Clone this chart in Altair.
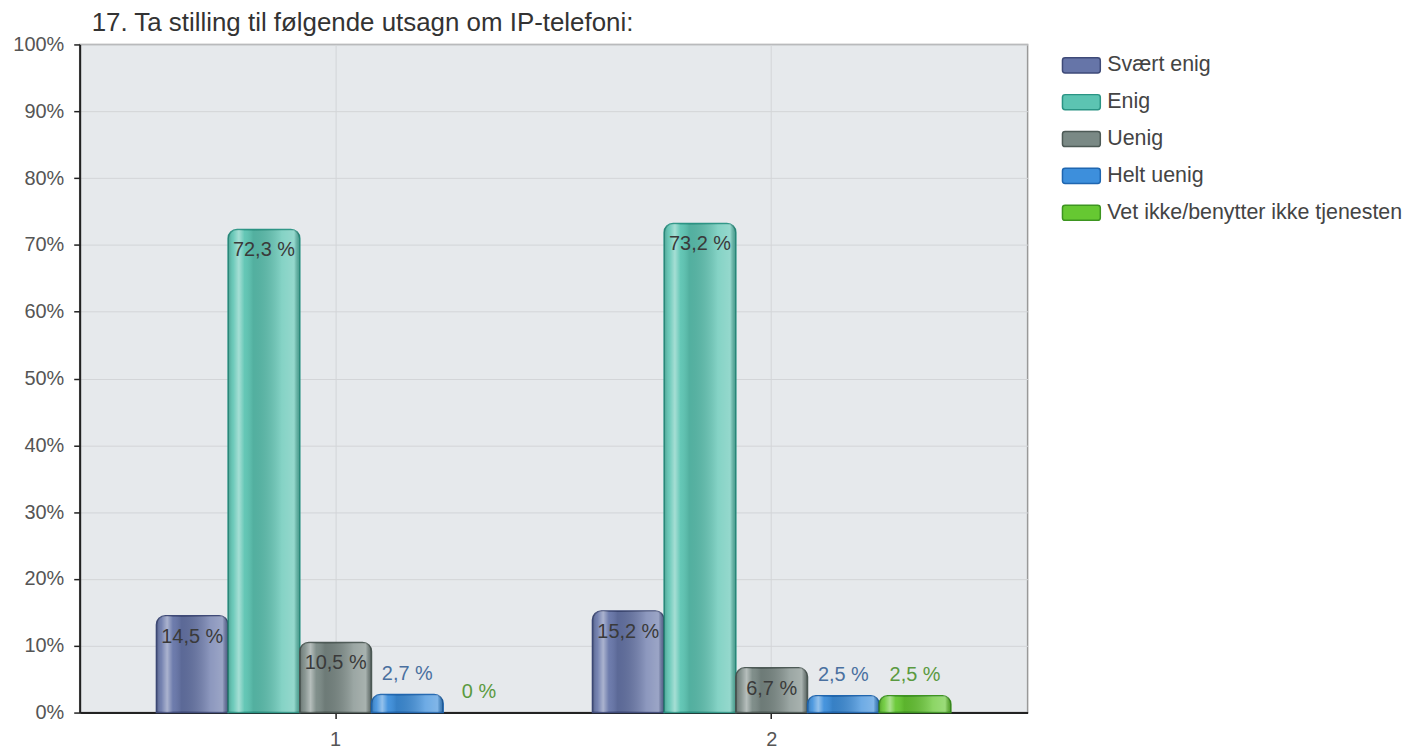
import altair as alt
import pandas as pd

groups = ["1", "2"]
series = ["Svært enig", "Enig", "Uenig", "Helt uenig", "Vet ikke/benytter ikke tjenesten"]
values_g1 = [14.5, 72.3, 10.5, 2.7, 0.0]
values_g2 = [15.2, 73.2, 6.7, 2.5, 2.5]
fill_colors = ["#6675a8", "#5cc4b2", "#7a8985", "#3d8fdc", "#66c832"]
stroke_colors = ["#3e4a78", "#2a9484", "#4d5a56", "#1f66b0", "#3d9520"]
y_ticks = [0, 10, 20, 30, 40, 50, 60, 70, 80, 90, 100]
title_text = "17. Ta stilling til følgende utsagn om IP-telefoni:"

rows = []
for g, vals in zip(groups, [values_g1, values_g2]):
    for s, v in zip(series, vals):
        lab = "0 %" if v == 0 else ("%.1f" % v).replace(".", ",") + " %"
        rows.append({"gruppe": g, "serie": s, "verdi": v, "etikett": lab})
df = pd.DataFrame(rows)

FONT = "Liberation Sans"

x_enc = alt.X(
    "gruppe:N", sort=groups, title=None,
    scale=alt.Scale(paddingInner=0.178, paddingOuter=0.176),
    axis=alt.Axis(labelAngle=0, labelFontSize=20, labelColor="#555555", labelFont=FONT,
                  tickSize=6, tickColor="#222222", tickWidth=1.5, labelPadding=11,
                  domainColor="#222222", domainWidth=2, grid=True, gridColor="#d3d5d8",
                  gridWidth=1),
)
xoff = alt.XOffset("serie:N", sort=series,
                   scale=alt.Scale(domain=series, paddingInner=0, paddingOuter=0))
y_enc = alt.Y(
    "verdi:Q", title=None,
    scale=alt.Scale(domain=[0, 100], nice=False),
    axis=alt.Axis(values=y_ticks, labelExpr="datum.value + '%'", labelFontSize=20,
                  labelColor="#555555", labelFont=FONT, tickSize=6, tickColor="#222222",
                  tickWidth=1.5, labelPadding=10, domainColor="#222222", domainWidth=2,
                  grid=True, gridColor="#d3d5d8", gridWidth=1),
)

base = alt.Chart(df).encode(x=x_enc, xOffset=xoff, y=y_enc)

sym_path = ("M-0.86,-0.4 L0.86,-0.4 Q1,-0.4 1,-0.26 L1,0.26 Q1,0.4 0.86,0.4 "
            "L-0.86,0.4 Q-1,0.4 -1,0.26 L-1,-0.26 Q-1,-0.4 -0.86,-0.4 Z")
legend = alt.Legend(title=None, orient="none", legendX=986, legendY=1,
                    symbolType=sym_path, symbolSize=1444, symbolStrokeWidth=1.5,
                    labelFontSize=21.5, labelFont=FONT, labelColor="#444444",
                    labelOffset=6, rowPadding=6, labelLimit=400)

bars = base.transform_filter("datum.verdi > 0").mark_bar(
    cornerRadiusTopLeft=9, cornerRadiusTopRight=9, strokeWidth=1.5
).encode(
    color=alt.Color("serie:N", sort=series,
                    scale=alt.Scale(domain=series, range=fill_colors), legend=legend),
    stroke=alt.Stroke("serie:N", sort=series,
                      scale=alt.Scale(domain=series, range=stroke_colors), legend=legend),
)

shine = alt.Gradient(
    gradient="linear", x1=0, x2=1, y1=0, y2=0,
    stops=[
        alt.GradientStop(offset=0.0, color="rgba(0,0,0,0.18)"),
        alt.GradientStop(offset=0.07, color="rgba(255,255,255,0.10)"),
        alt.GradientStop(offset=0.15, color="rgba(255,255,255,0.45)"),
        alt.GradientStop(offset=0.23, color="rgba(255,255,255,0.05)"),
        alt.GradientStop(offset=0.35, color="rgba(0,0,0,0.10)"),
        alt.GradientStop(offset=0.75, color="rgba(255,255,255,0.25)"),
        alt.GradientStop(offset=0.92, color="rgba(255,255,255,0.35)"),
        alt.GradientStop(offset=1.0, color="rgba(0,0,0,0.20)"),
    ],
)
overlay = base.transform_filter("datum.verdi > 0").mark_bar(
    cornerRadiusTopLeft=8, cornerRadiusTopRight=8, fill=shine, strokeWidth=0
)

inside = base.transform_filter("datum.verdi >= 5").mark_text(
    baseline="middle", align="center", dy=21, fontSize=20, font=FONT, color="#3a3a3a"
).encode(text="etikett:N")

outside = base.transform_filter("datum.verdi < 5").mark_text(
    baseline="middle", align="center", dy=-21, fontSize=20, font=FONT
).encode(
    text="etikett:N",
    color=alt.condition("datum.serie == 'Helt uenig'", alt.value("#4a70a0"), alt.value("#5a9a40")),
)

chart = alt.layer(bars, overlay, inside, outside).properties(
    width=952, height=671,
    title=alt.TitleParams(title_text, anchor="start", frame="group", dx=12, offset=-1,
                          fontSize=26, font=FONT, fontWeight="normal", color="#333333"),
    autosize=alt.AutoSizeParams(type="none"),
    padding={"left": 72, "top": 35, "right": 378, "bottom": 38},
).configure_view(fill="#e6e9ec", stroke="#999999", strokeWidth=1.5)

chart.save("out.html", embed_options={"renderer": "svg", "actions": False})
